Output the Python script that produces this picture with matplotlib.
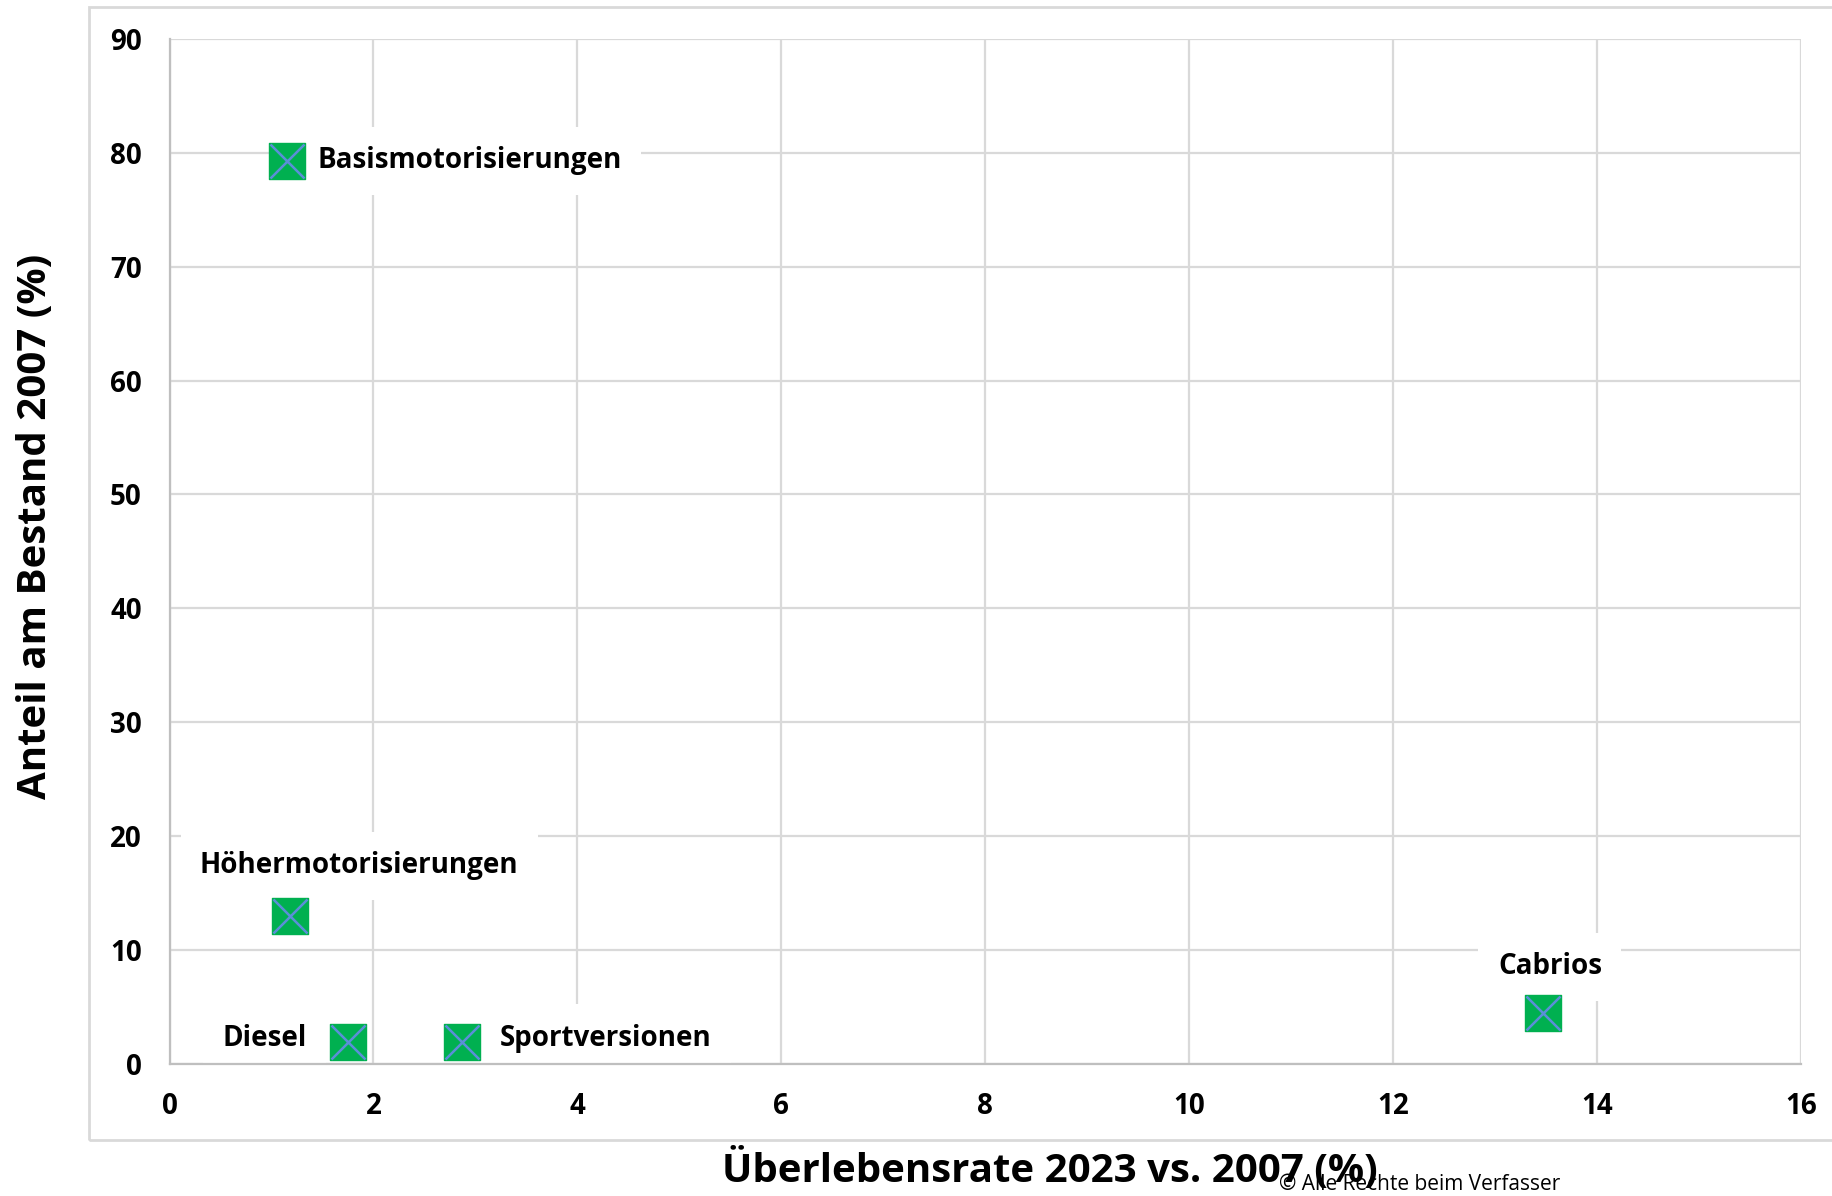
import matplotlib.pyplot as plt
from matplotlib.patches import Rectangle

# data
names = ["Basismotorisierungen", "Höhermotorisierungen", "Diesel",
         "Sportversionen", "Cabrios"]
survival_rate = [1.15, 1.18, 1.75, 2.87, 13.47]
share_2007 = [79.3, 13.0, 1.9, 1.9, 4.5]

x_ticks = [0, 2, 4, 6, 8, 10, 12, 14, 16]
y_ticks = [0, 10, 20, 30, 40, 50, 60, 70, 80, 90]

# label offsets (points) and alignment per point
label_pos = {
    "Basismotorisierungen": ((22, 0), "left"),
    "Höhermotorisierungen": ((50, 36), "center"),
    "Diesel": ((-60, 3), "center"),
    "Sportversionen": ((27, 3), "left"),
    "Cabrios": ((5, 33), "center"),
}

plt.rcParams["font.family"] = ["Open Sans", "DejaVu Sans"]

fig = plt.figure(figsize=(18.33, 11.96), dpi=100)
ax = fig.add_axes([0.0925, 0.1105, 0.890, 0.857])

# outer chart frame
fig.patches.append(Rectangle((89 / 1833, 1 - 1140 / 1196), 1.2, 1133 / 1196,
                             transform=fig.transFigure, fill=False,
                             edgecolor="#D9D9D9", linewidth=2, zorder=0))

ax.set_xlim(0, 16)
ax.set_ylim(0, 90)
ax.set_xticks(x_ticks)
ax.set_yticks(y_ticks)
ax.grid(True, color="#D9D9D9", linewidth=1.6)
ax.set_axisbelow(True)
for side in ["top", "right"]:
    ax.spines[side].set_visible(False)
for side in ["left", "bottom"]:
    ax.spines[side].set_color("#BFBFBF")
    ax.spines[side].set_linewidth(1.6)
    ax.spines[side].set_zorder(4)
ax.tick_params(length=0, labelsize=20, pad=20)
for lab in ax.get_xticklabels() + ax.get_yticklabels():
    lab.set_fontweight("bold")

for name, x, y in zip(names, survival_rate, share_2007):
    off, ha = label_pos[name]
    ax.annotate(name, (x, y), xytext=off, textcoords="offset points",
                ha=ha, va="center", fontsize=20, fontweight="bold", zorder=3,
                bbox=dict(boxstyle="square,pad=0.7", fc="white", ec="none"))

# markers: green square with blue cross
ax.scatter(survival_rate, share_2007, marker="s", s=640, color="#00B050",
           edgecolor="#00B050", zorder=6)
ax.scatter(survival_rate, share_2007, marker="x", s=600, color="#5B8FD8",
           linewidths=1.8, zorder=7)

fig.text(1050 / 1833, 1 - 1170 / 1196, "Überlebensrate 2023 vs. 2007 (%)",
         ha="center", va="center", fontsize=29, fontweight="bold")
fig.text(36 / 1833, 1 - 526 / 1196, "Anteil am Bestand 2007 (%)",
         ha="center", va="center", rotation=90, fontsize=29, fontweight="bold")
fig.text(1420 / 1833, 1 - 1184 / 1196, "© Alle Rechte beim Verfasser",
         ha="center", va="center", fontsize=15)

fig.savefig("out.png", dpi=100)
